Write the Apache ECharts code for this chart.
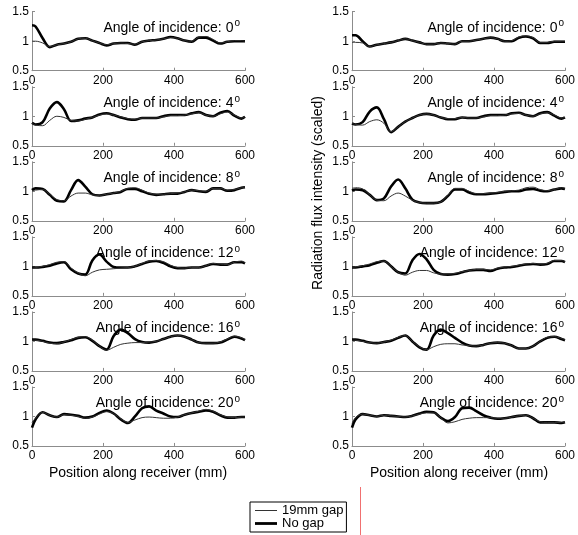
<!DOCTYPE html>
<html><head><meta charset="utf-8">
<script src="https://cdn.jsdelivr.net/npm/echarts@6/dist/echarts.min.js"></script>
<style>html,body{margin:0;padding:0;background:#fff}#c{width:578px;height:535px}</style>
</head><body><div id="c"></div>
<script>
// Position along receiver (mm)
const positions = [0,10,30,50,70,90,110,130,150,170,190,210,230,250,270,290,310,330,350,370,390,410,430,450,470,490,510,530,550,570,590,600];
const angles = [0,4,8,12,16,20];
const xTicks = [0,200,400,600];
const yTicks = [0.5,1,1.5];

// Left column
const L0_noGap = [1.27,1.25,1.05,0.90,0.94,0.96,0.99,1.04,1.05,1.01,0.97,0.93,0.96,0.97,0.97,0.94,0.99,1.01,1.02,1.04,1.07,1.05,1.01,0.99,1.06,1.06,1.01,0.96,0.99,1.00,1.00,1.00];
const L0_gap   = [1.00,1.00,0.97,0.91,0.94,0.96,0.99,1.04,1.05,1.01,0.97,0.94,0.96,0.97,0.96,0.95,0.99,1.01,1.02,1.04,1.06,1.05,1.01,1.00,1.07,1.08,1.03,0.97,0.99,1.01,1.01,1.00];
const L4_noGap = [0.89,0.86,0.90,1.13,1.24,1.12,0.92,0.93,0.96,0.98,1.03,1.05,1.02,0.98,0.95,0.94,0.97,0.97,0.97,1.00,1.02,1.02,1.02,1.05,1.07,1.02,1.00,1.06,1.09,1.01,0.96,0.99];
const L4_gap   = [0.88,0.85,0.84,0.93,1.00,0.98,0.93,0.92,0.95,0.98,1.02,1.04,1.02,0.99,0.96,0.95,0.97,0.97,0.97,0.99,1.01,1.01,1.02,1.04,1.06,1.02,1.00,1.04,1.07,1.02,0.97,0.99];
const L8_noGap = [1.02,1.05,1.04,0.94,0.84,0.83,1.02,1.19,1.08,0.95,0.93,0.95,0.97,0.99,1.04,1.04,1.00,0.96,0.94,0.95,0.96,0.96,0.99,1.02,1.00,0.99,1.05,1.05,1.01,1.02,1.06,1.07];
const L8_gap   = [1.00,1.02,1.03,0.95,0.86,0.84,0.92,0.97,0.97,0.94,0.93,0.95,0.97,1.00,1.05,1.06,1.02,0.97,0.95,0.95,0.96,0.97,0.99,1.02,1.01,1.00,1.05,1.05,1.02,1.03,1.06,1.07];
const L12_noGap = [0.98,0.98,0.99,1.01,1.05,1.07,0.95,0.88,0.86,1.10,1.20,1.08,0.99,0.98,0.98,1.00,1.04,1.08,1.09,1.06,1.00,0.97,0.97,0.98,0.98,1.01,1.04,1.03,1.03,1.07,1.07,1.05];
const L12_gap   = [0.97,0.98,1.00,1.03,1.07,1.08,0.97,0.89,0.84,0.90,0.94,0.95,0.96,0.97,0.98,1.00,1.05,1.09,1.10,1.08,1.02,0.98,0.97,0.98,0.98,1.01,1.05,1.04,1.03,1.07,1.09,1.06];
const L16_noGap = [1.03,1.03,1.01,0.98,0.97,0.99,1.02,1.06,1.07,1.01,0.92,0.86,1.09,1.20,1.14,1.04,0.99,0.98,1.00,1.04,1.08,1.10,1.08,1.03,0.98,0.97,0.97,0.98,1.03,1.08,1.05,1.02];
const L16_gap   = [1.02,1.02,1.00,0.97,0.96,0.99,1.03,1.07,1.08,1.02,0.92,0.85,0.90,0.95,0.97,0.98,0.98,0.99,1.00,1.04,1.08,1.10,1.08,1.03,0.98,0.97,0.97,0.99,1.04,1.09,1.06,1.03];
const L20_noGap = [0.81,0.95,1.07,1.02,0.99,1.04,1.03,1.01,0.98,1.00,1.06,1.10,1.05,0.95,0.89,1.00,1.14,1.17,1.10,1.05,1.00,0.99,1.03,1.06,1.08,1.10,1.08,1.02,0.98,0.98,0.99,0.99];
const L20_gap   = [0.90,0.97,1.07,1.02,0.99,1.03,1.02,1.00,0.97,0.99,1.04,1.08,1.05,0.96,0.90,0.94,0.98,0.99,0.98,0.97,0.97,0.99,1.03,1.06,1.09,1.12,1.09,1.03,0.99,0.98,0.99,0.99];

// Right column
const R0_noGap = [1.10,1.10,1.00,0.91,0.94,0.96,0.98,1.01,1.04,1.01,0.98,0.95,0.95,0.97,0.96,0.95,1.00,1.00,1.02,1.04,1.06,1.04,1.00,1.00,1.06,1.08,1.05,0.97,0.97,0.99,0.99,0.99];
const R0_gap   = [0.98,0.98,0.97,0.91,0.94,0.96,0.98,1.01,1.04,1.01,0.98,0.95,0.95,0.97,0.96,0.95,1.00,1.00,1.02,1.04,1.06,1.04,1.00,1.01,1.07,1.09,1.06,0.98,0.98,1.00,1.00,1.00];
const R4_noGap = [0.88,0.86,0.90,1.08,1.15,0.95,0.73,0.82,0.91,0.97,1.02,1.04,1.02,0.98,0.95,0.95,0.98,0.97,0.97,1.00,1.02,1.02,1.02,1.05,1.06,1.02,1.00,1.05,1.07,1.01,0.96,0.98];
const R4_gap   = [0.88,0.86,0.85,0.91,0.94,0.88,0.74,0.82,0.91,0.97,1.02,1.04,1.02,0.98,0.96,0.96,0.98,0.97,0.97,0.99,1.01,1.01,1.02,1.04,1.05,1.02,1.00,1.04,1.06,1.02,0.97,0.98];
const R8_noGap = [1.01,1.03,1.02,0.94,0.85,0.88,1.08,1.20,1.05,0.86,0.81,0.80,0.80,0.82,0.92,1.03,1.03,0.98,0.95,0.95,0.96,0.97,0.99,1.00,1.00,1.03,1.04,1.01,1.00,1.03,1.05,1.04];
const R8_gap   = [1.05,1.06,1.04,0.94,0.85,0.84,0.92,0.97,0.92,0.85,0.81,0.80,0.80,0.82,0.93,1.05,1.05,1.00,0.96,0.96,0.97,0.98,1.00,1.01,1.02,1.06,1.07,1.03,1.01,1.03,1.06,1.05];
const R12_noGap = [0.98,0.98,1.00,1.02,1.06,1.09,1.00,0.90,0.88,1.10,1.21,1.12,0.94,0.87,0.86,0.87,0.90,0.93,0.94,0.94,0.92,0.96,0.98,0.99,1.01,1.03,1.04,1.03,1.04,1.09,1.09,1.07];
const R12_gap   = [0.98,0.99,1.01,1.04,1.08,1.09,1.00,0.90,0.85,0.90,0.93,0.93,0.89,0.87,0.87,0.88,0.91,0.93,0.95,0.95,0.94,0.97,0.99,1.00,1.02,1.04,1.05,1.04,1.05,1.10,1.10,1.08];
const R16_noGap = [1.03,1.03,1.01,0.98,0.97,0.99,1.01,1.06,1.10,1.00,0.90,0.86,1.10,1.20,1.14,1.06,0.98,0.93,0.92,0.94,0.97,0.98,0.97,0.93,0.88,0.88,0.92,1.00,1.06,1.08,1.04,1.02];
const R16_gap   = [1.02,1.02,1.00,0.98,0.97,0.99,1.02,1.07,1.10,1.00,0.91,0.86,0.91,0.95,0.96,0.96,0.94,0.93,0.92,0.94,0.97,0.98,0.97,0.93,0.88,0.88,0.92,1.00,1.07,1.08,1.05,1.03];
const R20_noGap = [0.81,0.95,1.04,1.02,1.00,1.02,1.01,1.00,0.99,1.01,1.05,1.08,1.07,0.98,0.92,0.99,1.14,1.15,1.09,1.02,0.98,0.96,0.97,0.99,1.01,1.02,0.97,0.90,0.90,0.90,0.89,0.90];
const R20_gap   = [0.88,0.98,1.04,1.02,1.00,1.02,1.01,1.00,0.99,1.01,1.04,1.06,1.06,0.98,0.89,0.91,0.95,0.97,0.98,0.98,0.98,0.97,0.97,0.99,1.01,1.02,0.97,0.91,0.90,0.90,0.90,0.90];

const leftGap = [L0_gap,L4_gap,L8_gap,L12_gap,L16_gap,L20_gap];
const leftNoGap = [L0_noGap,L4_noGap,L8_noGap,L12_noGap,L16_noGap,L20_noGap];
const rightGap = [R0_gap,R4_gap,R8_gap,R12_gap,R16_gap,R20_gap];
const rightNoGap = [R0_noGap,R4_noGap,R8_noGap,R12_noGap,R16_noGap,R20_noGap];

const FONT = 'Liberation Sans, Arial, sans-serif';
const AX = '#8c8c8c';
const ROW_TOP = 11.7, ROW_STEP = 75.05, ROW_H = 59;
const cols = [{left:32, width:213, titleRight:338, gap:leftGap, noGap:leftNoGap},
              {left:352, width:216, titleRight:14, gap:rightGap, noGap:rightNoGap}];

const grid = [], xAxis = [], yAxis = [], series = [], title = [];
let idx = 0;
cols.forEach((c) => {
  angles.forEach((a, r) => {
    const top = ROW_TOP + ROW_STEP * r;
    grid.push({left:c.left, top:top, width:c.width, height:ROW_H});
    xAxis.push({type:'value', gridIndex:idx, min:0, max:600, interval:200,
      axisLine:{show:true, lineStyle:{color:AX, width:1}},
      axisTick:{show:true, inside:true, length:3, lineStyle:{color:AX}},
      splitLine:{show:false},
      axisLabel:{color:'#000', fontSize:12, fontFamily:FONT, margin:4,
        formatter:(v)=> xTicks.includes(v) ? String(v) : ''}});
    yAxis.push({type:'value', gridIndex:idx, min:0.5, max:1.5, interval:0.5,
      axisLine:{show:true, lineStyle:{color:AX, width:1}},
      axisTick:{show:true, inside:true, length:3, lineStyle:{color:AX}},
      splitLine:{show:false},
      axisLabel:{color:'#000', fontSize:12, fontFamily:FONT, margin:3,
        formatter:(v)=> yTicks.includes(v) ? String(v) : ''}});
    series.push({name:'19mm gap', type:'line', xAxisIndex:idx, yAxisIndex:idx,
      data: positions.map((x,j)=>[x, c.gap[r][j]]), smooth:0.35, symbol:'none',
      lineStyle:{color:'#333', width:1}, itemStyle:{color:'#333'}, z:3, animation:false});
    series.push({name:'No gap', type:'line', xAxisIndex:idx, yAxisIndex:idx,
      data: positions.map((x,j)=>[x, c.noGap[r][j]]), smooth:0.35, symbol:'none',
      lineStyle:{color:'#000', width:2.6}, itemStyle:{color:'#000'}, z:2, animation:false});
    title.push({text:'{t|Angle of incidence: ' + a + '}{s|o}', right:c.titleRight, top: top + 7,
      padding:0,
      textStyle:{fontWeight:'normal', rich:{t:{fontSize:14, fontFamily:FONT, color:'#000', fontWeight:'normal'},
                       s:{fontSize:10, fontFamily:FONT, color:'#000', fontWeight:'normal', padding:[0,0,8,1]}}}});
    idx++;
  });
});

const chart = echarts.init(document.getElementById('c'), null, {renderer:'canvas'});
chart.setOption({
  animation:false,
  backgroundColor:'#fff',
  title: title,
  grid: grid, xAxis: xAxis, yAxis: yAxis, series: series,
  legend:{data:[
      {name:'19mm gap', icon:'path://M0,0M0,4.5h22v1h-22zM22,10'},
      {name:'No gap', icon:'path://M0,0M0,3.6h22v2.8h-22zM22,10'}],
    orient:'vertical', left:250, top:502,
    itemWidth:22, itemHeight:10, itemGap:0, padding:[2,3,2,5],
    borderColor:'#000', borderWidth:1, backgroundColor:'#fff',
    textStyle:{fontSize:13, fontFamily:FONT, color:'#000'}},
  graphic:[
    {type:'text', x:318, y:193, rotation:Math.PI/2,
      style:{text:'Radiation flux intensity (scaled)', font:'14px ' + FONT, fill:'#000',
        textAlign:'center', textVerticalAlign:'middle'}},
    {type:'text', x:138, y:473,
      style:{text:'Position along receiver (mm)', font:'14px ' + FONT, fill:'#000',
        textAlign:'center', textVerticalAlign:'middle'}},
    {type:'text', x:459, y:473,
      style:{text:'Position along receiver (mm)', font:'14px ' + FONT, fill:'#000',
        textAlign:'center', textVerticalAlign:'middle'}},
    {type:'line', shape:{x1:360.5, y1:487, x2:360.5, y2:535},
      style:{stroke:'#f07070', lineWidth:1}}
  ]
});
</script></body></html>
